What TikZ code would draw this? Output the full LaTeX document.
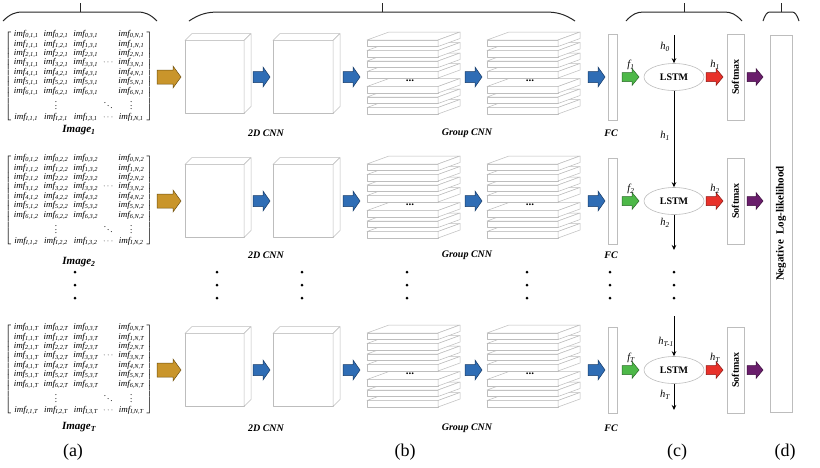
\documentclass[tikz,border=0pt]{standalone}
\usepackage{fontspec}
\setmainfont{Liberation Serif}
\usepackage{graphicx}
\usetikzlibrary{shapes.geometric,arrows.meta}

\definecolor{cgold}{HTML}{C9952B}
\definecolor{cgoldd}{HTML}{6E5010}
\definecolor{cblue}{HTML}{2F6DB5}
\definecolor{cblued}{HTML}{173A66}
\definecolor{cgreen}{HTML}{4DB848}
\definecolor{cgreend}{HTML}{2A6A28}
\definecolor{cred}{HTML}{E8312A}
\definecolor{credd}{HTML}{8A1A15}
\definecolor{cpurp}{HTML}{6A1E6C}
\definecolor{cpurpd}{HTML}{3A0E3C}
\definecolor{edgegray}{HTML}{BDBDBD}

\tikzset{
  boxface/.style={fill=white,draw=edgegray,line width=0.5pt,line join=round},
  goldarr/.style={fill=cgold,draw=cgoldd,line width=0.5pt},
  bluearr/.style={fill=cblue,draw=cblued,line width=0.5pt},
  greenarr/.style={fill=cgreen,draw=cgreend,line width=0.5pt},
  redarr/.style={fill=cred,draw=credd,line width=0.5pt},
  purparr/.style={fill=cpurp,draw=cpurpd,line width=0.5pt},
  lbl/.style={font=\bfseries\itshape\fontsize{10}{12}\selectfont,inner sep=0pt},
  hlbl/.style={font=\itshape\fontsize{10.5}{12}\selectfont,inner sep=0pt},
  thinbox/.style={draw=edgegray,line width=0.6pt,inner sep=0pt,fill=white},
  lstmnode/.style={ellipse,draw=edgegray,line width=0.6pt,minimum width=60pt,minimum height=27pt,inner sep=0pt,font=\bfseries\fontsize{10}{12}\selectfont},
  harrow/.style={line width=0.8pt,-{Stealth[length=5pt,width=4.5pt]}},
  bracestyle/.style={line width=1pt,draw=black!85},
  sublbl/.style={font=\fontsize{18}{20}\selectfont,inner sep=0pt}
}

% fat arrow: x, y, length, shaft half, head half, head length, style
\newcommand\fatarr[7]{%
  \filldraw[#7] (#1,#2-#4) -- (#1+#3-#6,#2-#4) -- (#1+#3-#6,#2-#5) -- (#1+#3,#2)
    -- (#1+#3-#6,#2+#5) -- (#1+#3-#6,#2+#4) -- (#1,#2+#4) -- cycle;}

% cube: x0, top, width, height, depth
\newcommand\cubeA[5]{%
  \filldraw[boxface] (#1,#2) rectangle (#1+#3,#2+#4);
  \filldraw[boxface] (#1,#2) -- (#1+#5,#2-#5) -- (#1+#3+#5,#2-#5) -- (#1+#3,#2) -- cycle;
  \filldraw[boxface] (#1+#3,#2) -- (#1+#3+#5,#2-#5) -- (#1+#3+#5,#2+#4-#5) -- (#1+#3,#2+#4) -- cycle;}

% slab stack: x0, top
\newcommand\slabstack[2]{%
  \foreach \o in {67.5,57,46.5,31.5,21,10.5,0}{%
    \filldraw[boxface] (#1,#2+\o) rectangle (#1+71,#2+\o+6.5);
    \filldraw[boxface] (#1,#2+\o) -- (#1+22,#2+\o-8) -- (#1+93,#2+\o-8) -- (#1+71,#2+\o) -- cycle;
    \filldraw[boxface] (#1+71,#2+\o) -- (#1+93,#2+\o-8) -- (#1+93,#2+\o-1.5) -- (#1+71,#2+\o+6.5) -- cycle;
  }
  \node[font=\bfseries\fontsize{11}{11}\selectfont,inner sep=0pt] at (#1+43,#2+40.5) {...};}

\newcommand\im[1]{\mbox{\itshape imf\textsubscript{#1}}}
\newcommand\imfmat[1]{%
  {\fontsize{9.5}{10.2}\selectfont\setlength\arraycolsep{2.6pt}%
  $\left[\begin{array}{ccccc}
  \im{0,1,#1} & \im{0,2,#1} & \im{0,3,#1} & & \im{0,N,#1}\\
  \im{1,1,#1} & \im{1,2,#1} & \im{1,3,#1} & & \im{1,N,#1}\\
  \im{2,1,#1} & \im{2,2,#1} & \im{2,3,#1} & & \im{2,N,#1}\\
  \im{3,1,#1} & \im{3,2,#1} & \im{3,3,#1} & \cdots & \im{3,N,#1}\\
  \im{4,1,#1} & \im{4,2,#1} & \im{4,3,#1} & & \im{4,N,#1}\\
  \im{5,1,#1} & \im{5,2,#1} & \im{5,3,#1} & & \im{5,N,#1}\\
  \im{6,1,#1} & \im{6,2,#1} & \im{6,3,#1} & & \im{6,N,#1}\\
   & \vdots & & \ddots & \vdots\\
  \im{I,1,#1} & \im{I,2,#1} & \im{I,3,#1} & \cdots & \im{I,N,#1}
  \end{array}\right]$}}

% brace: x1, x2, xc, curve width
\newcommand\topbrace[4]{%
  \draw[bracestyle] (#1,21) .. controls (#1+#4*0.35,14) and (#1+#4*0.6,12) .. (#1+#4,12)
    -- (#2-#4,12) .. controls (#2-#4*0.6,12) and (#2-#4*0.35,14) .. (#2,21);
  \draw[bracestyle] (#3,12) -- (#3,3);}

\begin{document}
\begin{tikzpicture}[x=1pt,y=-1pt]
\useasboundingbox (0,0) rectangle (820,467);
\fill[white] (0,0) rectangle (820,467);

% top braces
\topbrace{3}{157}{80}{20}
\topbrace{189}{575}{382}{30}
\topbrace{626}{742}{684}{18}
\topbrace{763}{799}{781}{7}

\foreach \r/\k/\ly/\lly in {77/1/130/133,201/2/262/255,370/T/427/428}{
  % matrix
  \node[inner sep=0pt] (mat\k) at (79,\r-1) {\resizebox*{148pt}{92pt}{\imfmat{\k}}};
  \node[lbl,font=\bfseries\itshape\fontsize{11}{12}\selectfont] (img\k) at (79,\ly) {Image\textsubscript{\k}};
  \fatarr{157}{\r}{24}{7}{11}{8}{goldarr}
  % 2D CNN cubes
  \cubeA{185}{\r-36.5}{59}{73}{7}
  \fatarr{253}{\r}{17}{5.5}{10}{7}{bluearr}
  \cubeA{273}{\r-36.5}{60}{73}{7}
  \fatarr{343}{\r}{17}{5.5}{10}{7}{bluearr}
  \node[lbl] (cnn\k) at (266,\lly) {2D CNN};
  % group CNN stacks
  \slabstack{367}{\r-37}
  \fatarr{465}{\r}{17}{5.5}{10}{7}{bluearr}
  \slabstack{487}{\r-37}
  \fatarr{588}{\r}{17}{5.5}{10}{7}{bluearr}
  \node[lbl] (gcnn\k) at (467,\lly) {Group CNN};
  % FC
  \node[thinbox,minimum width=9pt,minimum height=86pt] (fc\k) at (612.5,\r) {};
  \node[lbl] (fcl\k) at (611,\lly) {FC};
  \fatarr{622}{\r}{17}{4.5}{8.5}{7}{greenarr}
  \node[hlbl] (f\k) at (631,\r-12) {f\textsubscript{\k}};
  % LSTM
  \node[lstmnode] (lstm\k) at (674,\r) {LSTM};
  \fatarr{706}{\r}{17}{4.5}{8.5}{7}{redarr}
  \node[hlbl] (ho\k) at (715,\r-12) {h\textsubscript{\k}};
  % Softmax
  \node[thinbox,minimum width=17pt,minimum height=86pt] (sm\k) at (735.5,\r) {};
  \node[rotate=90,font=\bfseries\fontsize{10}{12}\selectfont,inner sep=0pt] at (sm\k) {Softmax};
  \fatarr{747}{\r}{16}{4.5}{8.5}{7}{purparr}
}

% negative log-likelihood
\node[thinbox,minimum width=22pt,minimum height=377pt] (nll) at (781,223.5) {};
\node[rotate=90,font=\bfseries\fontsize{11}{12}\selectfont,inner sep=0pt] at (nll) {Negative\ \ Log-likelihood};

% LSTM recurrent connections
\coordinate (h0s) at (674,35);
\coordinate (h2e) at (674,250);
\coordinate (hTs) at (674,316);
\coordinate (hTe) at (674,410);
\draw[harrow] (h0s) -- (lstm1.north);
\draw[harrow] (lstm1.south) -- (lstm2.north);
\draw[harrow] (lstm2.south) -- (h2e);
\draw[harrow] (hTs) -- (lstmT.north);
\draw[harrow] (lstmT.south) -- (hTe);
\node[hlbl] (lh0) at (665,47) {h\textsubscript{0}};
\node[hlbl] (lh1) at (665,136) {h\textsubscript{1}};
\node[hlbl] (lh2) at (665,223) {h\textsubscript{2}};
\node[hlbl] (lhT1) at (666,342) {h\textsubscript{T-1}};
\node[hlbl] (lhT) at (665,395) {h\textsubscript{T}};

% vertical dots
\foreach \x in {75,217,302,407,527,610,674}{
  \foreach \y in {272,285,298}{
    \fill (\x,\y) circle (1.5pt);
  }
}

% sub-figure labels
\node[sublbl] (la) at (73,452) {(a)};
\node[sublbl] (lb) at (405,452) {(b)};
\node[sublbl] (lc) at (677,452) {(c)};
\node[sublbl] (ld) at (785,452) {(d)};
\end{tikzpicture}
\end{document}
